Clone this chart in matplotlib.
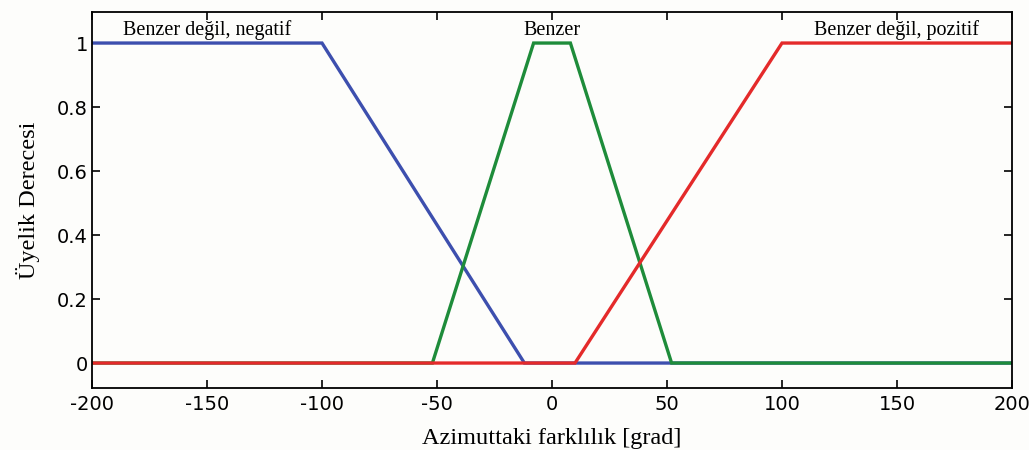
import matplotlib
matplotlib.use("Agg")
import matplotlib.pyplot as plt
import numpy as np

plt.rcParams['axes.unicode_minus'] = False

# membership functions (breakpoints)
x_neg = [-200, -100, -12, 200]
y_neg = [1, 1, 0, 0]
x_mid = [-200, -52, -8, 8, 52, 200]
y_mid = [0, 0, 1, 1, 0, 0]
x_pos = [-200, 10, 100, 200]
y_pos = [0, 0, 1, 1]

labels = ['Benzer değil, negatif', 'Benzer', 'Benzer değil, pozitif']
label_x = [-150, 0, 150]

col_neg = '#3d4fae'
col_mid = '#1e8c3a'
col_pos = '#e42a2a'

serif = 'Liberation Serif'

fig = plt.figure(figsize=(10.29, 4.5), dpi=100)
fig.patch.set_facecolor('#fdfdfb')
ax = fig.add_axes([92/1029, 1 - 388/450, 920/1029, 376/450])
ax.set_facecolor('#fdfdfb')

lw = 2.4
ax.plot(x_neg, y_neg, color=col_neg, lw=lw, solid_joinstyle='miter')
ax.plot(x_mid, y_mid, color=col_mid, lw=lw, solid_joinstyle='miter')
ax.plot(x_pos, y_pos, color=col_pos, lw=lw, solid_joinstyle='miter')

for lx, lab in zip(label_x, labels):
    ax.text(lx, 1.008, lab, ha='center', va='bottom', family=serif, fontsize=14.5)

ax.set_xlim(-200, 200)
ax.set_ylim(-0.078, 1.097)
ax.set_xticks(np.arange(-200, 201, 50))
ax.set_yticks([0, 0.2, 0.4, 0.6, 0.8, 1])
ax.set_yticklabels(['0', '0.2', '0.4', '0.6', '0.8', '1'])
ax.tick_params(direction='in', top=True, right=True, length=6, width=1.2,
               labelsize=14)
ax.tick_params(axis='x', pad=5)
ax.tick_params(axis='y', pad=3)
for s in ax.spines.values():
    s.set_linewidth(1.3)

ax.set_xlabel('Azimuttaki farklılık [grad]', family=serif, fontsize=17.5, labelpad=10)
ax.set_ylabel('Üyelik Derecesi', family=serif, fontsize=17.5, labelpad=12)

fig.savefig('out.png', dpi=100, facecolor=fig.get_facecolor())
